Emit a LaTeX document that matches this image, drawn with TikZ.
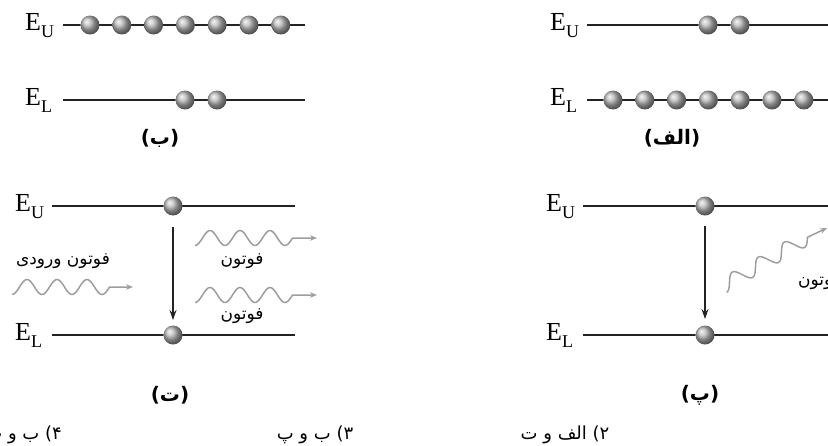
\documentclass[tikz,border=0pt]{standalone}
\usepackage{fontspec}
\setmainfont{Liberation Serif}
\newfontfamily\fa[Script=Arabic]{DejaVu Sans}
\newfontfamily\latsans{DejaVu Sans}
\TeXXeTstate=1
\usetikzlibrary{arrows.meta}
\definecolor{wavegray}{RGB}{158,158,158}
\definecolor{levelcol}{RGB}{35,35,35}
\newcommand\ELab[1]{\fontsize{26}{26}\selectfont E\raisebox{-6.5pt}{\fontsize{18}{18}\selectfont #1}}
\newcommand\PanLab[1]{{\latsans\bfseries(}{\fa\bfseries #1}{\latsans\bfseries)}}
\begin{document}
\begin{tikzpicture}[x=1pt,y=-1pt,
  ball/.style={circle, inner sep=0pt, minimum size=19pt, shading=ball, ball color=black!28},
  level/.style={line width=1.1pt, levelcol},
  elab/.style={anchor=base west, inner sep=0pt},
  photon/.style={wavegray, line width=1.5pt, -{Stealth[length=7pt,width=5.5pt]}},
  drop/.style={line width=1.3pt, levelcol, -{Stealth[length=10pt,width=7pt]}},
  fatext/.style={font=\fa\fontsize{17}{17}\selectfont, inner sep=0pt},
  panlab/.style={font=\fontsize{20}{20}\selectfont, inner sep=0pt},
  ans/.style={font=\fa\fontsize{18}{18}\selectfont, inner sep=0pt}]
\useasboundingbox (0,0) rectangle (828,445);

% ---------- panel (ب) top-left ----------
\node[elab] (bEU) at (25,30.5) {\ELab{U}};
\node[elab] (bEL) at (25,105.5) {\ELab{L}};
\coordinate (bU1) at (63,25); \coordinate (bU2) at (305,25);
\coordinate (bL1) at (63,100); \coordinate (bL2) at (305,100);
\draw[level] (bU1) -- (bU2);
\draw[level] (bL1) -- (bL2);
\foreach \k in {0,...,6}{\node[ball] (bu\k) at (90+31.8*\k,25) {};}
\node[ball] (bl1) at (185,100) {};
\node[ball] (bl2) at (217,100) {};
\node[panlab] (labB) at (160,138) {\PanLab{ب}};

% ---------- panel (الف) top-right ----------
\node[elab] (aEU) at (550,30.5) {\ELab{U}};
\node[elab] (aEL) at (550,105.5) {\ELab{L}};
\coordinate (aU1) at (587,25); \coordinate (aU2) at (828,25);
\coordinate (aL1) at (587,100); \coordinate (aL2) at (828,100);
\draw[level] (aU1) -- (aU2);
\draw[level] (aL1) -- (aL2);
\node[ball] (au1) at (708,25) {};
\node[ball] (au2) at (740,25) {};
\foreach \k in {0,...,6}{\node[ball] (al\k) at (613+31.8*\k,100) {};}
\node[panlab] (labA) at (672,138) {\PanLab{الف}};

% ---------- panel (ت) bottom-left ----------
\node[elab] (tEU) at (15,211.5) {\ELab{U}};
\node[elab] (tEL) at (15,340.5) {\ELab{L}};
\coordinate (tU1) at (52,206); \coordinate (tU2) at (295,206);
\coordinate (tL1) at (52,335); \coordinate (tL2) at (295,335);
\draw[level] (tU1) -- (tU2);
\draw[level] (tL1) -- (tL2);
\node[ball] (tu) at (173,206) {};
\node[ball] (tl) at (173,335) {};
\coordinate (tA1) at (173,227); \coordinate (tA2) at (173,320);
\draw[drop] (tA1) -- (tA2);
\coordinate (tin) at (133,287);
\draw[photon] plot[domain=0:3.25,samples=90,smooth] ({12+30*\x},{287+7.5*cos(360*\x)}) -- (tin);
\coordinate (tout1) at (317,238);
\draw[photon] plot[domain=0:3.25,samples=90,smooth] ({195+30*\x},{238+7.5*cos(360*\x)}) -- (tout1);
\coordinate (tout2) at (317,295);
\draw[photon] plot[domain=0:3.25,samples=90,smooth] ({195+30*\x},{295+7.5*cos(360*\x)}) -- (tout2);
\node[fatext] (tinT) at (63,261) {\beginR فوتون ورودی\endR};
\node[fatext] (to1T) at (242,261) {فوتون};
\node[fatext] (to2T) at (242,316) {فوتون};
\node[panlab] (labT) at (170,395) {\PanLab{ت}};

% ---------- panel (پ) bottom-right ----------
\node[elab] (pEU) at (546,211.5) {\ELab{U}};
\node[elab] (pEL) at (546,340.5) {\ELab{L}};
\coordinate (pU1) at (583,206); \coordinate (pU2) at (828,206);
\coordinate (pL1) at (583,335); \coordinate (pL2) at (828,335);
\draw[level] (pU1) -- (pU2);
\draw[level] (pL1) -- (pL2);
\node[ball] (pu) at (705,206) {};
\node[ball] (pl) at (705,335) {};
\coordinate (pA1) at (705,226); \coordinate (pA2) at (705,319);
\draw[drop] (pA1) -- (pA2);
\coordinate (pout) at (827,228);
\draw[photon] plot[domain=0:3.25,samples=90,smooth]
  ({723+25.98*\x+3.7*cos(360*\x)},{286-15*\x+6.4*cos(360*\x)}) -- (pout);
\node[fatext,anchor=west] (poT) at (798,282) {فوتون};
\node[panlab] (labP) at (700,395) {\PanLab{پ}};

% ---------- answers ----------
\node[ans,anchor=east] (ans4) at (62,435) {\beginR ۴) ب و ت\endR};
\node[ans] (ans3) at (315,435) {\beginR ۳) ب و پ\endR};
\node[ans] (ans2) at (565,435) {\beginR ۲) الف و ت\endR};
\end{tikzpicture}
\end{document}
